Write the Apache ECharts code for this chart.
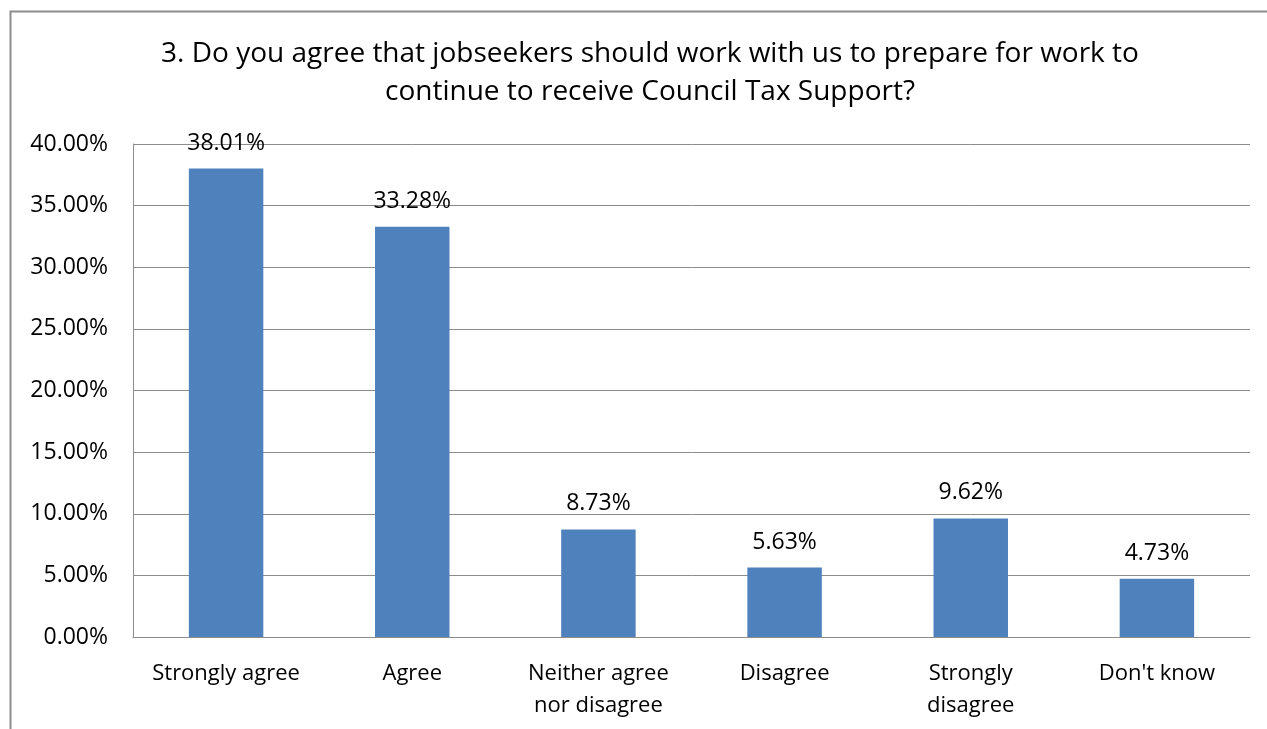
<!DOCTYPE html>
<html><head><meta charset="utf-8">
<script src="https://cdn.jsdelivr.net/npm/echarts@6/dist/echarts.min.js"></script>
<style>html,body{margin:0;padding:0;background:#fff;}#c{width:1267px;height:729px;}</style>
</head><body><div id="c"></div>
<script>
const categories = ["Strongly agree", "Agree", "Neither agree\nnor disagree", "Disagree", "Strongly\ndisagree", "Don't know"];
const values = [38.01, 33.28, 8.73, 5.63, 9.62, 4.73];
const titleText = "3. Do you agree that jobseekers should work with us to prepare for work to\ncontinue to receive Council Tax Support?";
const FONT = "Open Sans";
const chart = echarts.init(document.getElementById('c'), null, {renderer: 'canvas'});
chart.setOption({
  animation: false,
  backgroundColor: '#fff',
  graphic: [{type: 'rect', shape: {x: 10.5, y: 11.5, width: 1300, height: 800}, style: {fill: 'none', stroke: '#8c8c8c', lineWidth: 2}}],
  title: {text: titleText, left: 645, textAlign: 'center', top: 30,
    textStyle: {fontFamily: FONT, fontSize: 28, fontWeight: 'normal', color: '#000', lineHeight: 38}},
  grid: {left: 133, right: 17, top: 144, bottom: 92},
  xAxis: {type: 'category', data: categories,
    axisLine: {lineStyle: {color: '#8c8c8c', width: 1}}, axisTick: {show: false},
    axisLabel: {fontFamily: FONT, fontSize: 22, color: '#000', margin: 21, lineHeight: 32, interval: 0}},
  yAxis: {type: 'value', min: 0, max: 40, interval: 5,
    axisLine: {show: true, lineStyle: {color: '#8c8c8c'}}, axisTick: {show: false},
    splitLine: {lineStyle: {color: '#8c8c8c', width: 1}},
    axisLabel: {fontFamily: FONT, fontSize: 23, color: '#000', margin: 25, formatter: v => v.toFixed(2) + '%'}},
  series: [{type: 'bar', data: values, barWidth: '40%', itemStyle: {color: '#4F81BD'},
    label: {show: true, position: 'top', distance: 14, fontFamily: FONT, fontSize: 23, color: '#000', formatter: p => p.value.toFixed(2) + '%'}}]
});
</script></body></html>
